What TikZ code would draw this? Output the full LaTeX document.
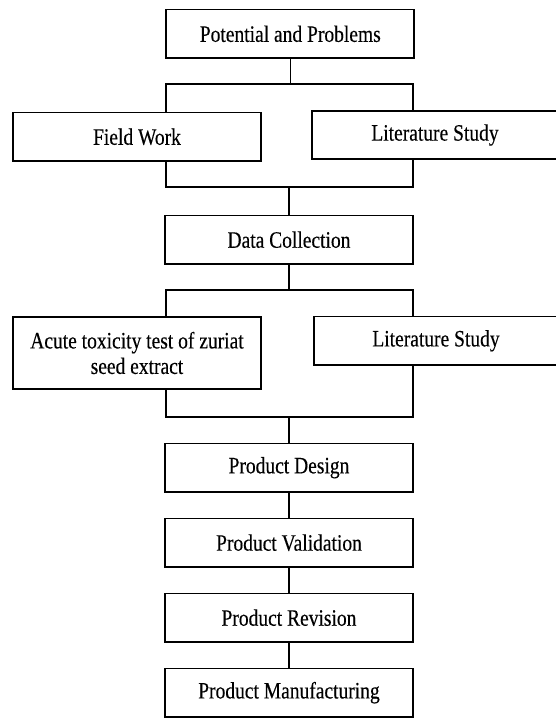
\documentclass[tikz,border=0pt]{standalone}
\usepackage{fontspec}
\setmainfont{Liberation Serif}[FakeStretch=0.83, FakeBold=0.3]
\usepackage{tikz}
\usetikzlibrary{positioning}

\begin{document}
\begin{tikzpicture}[x=1pt, y=-1pt, node distance=75pt]
	\tikzstyle{format} = [draw, line width=1.8pt, rectangle, minimum width=248pt, minimum height=48.5pt, inner sep=2pt, align=center, font=\fontsize{23.5}{25.5}\selectfont]
	\tikzstyle{link} = [line width=1.4pt]

	\useasboundingbox (0,0) rectangle (555,718);

	\begin{scope}
		\path
			node[format] (1) at (290.3,33.8) {Potential and Problems}
			node[format] (2) at (137,136.8) {Field Work}
			node[format, minimum width=246pt] (3) at (435,135) {Literature Study}
			node[format] (4) at (289,239.7) {Data Collection}
			node[format, minimum height=72.6pt] (5) at (137,353) {Acute toxicity test of zuriat\\seed extract}
			node[format, minimum width=244pt] (6) at (436,340.8) {Literature Study}
		;
	\end{scope}

	\begin{scope}
		\path
			node[format] (7) at (289,467.7) {Product Design}
			node[format, below of=7] (8) {Product Validation}
			node[format, below of=8] (9) {Product Revision}
			node[format, below of=9] (10) {Product Manufacturing}
		;
	\end{scope}

	% branch points
	\coordinate (a) at (166,84);
	\coordinate (b) at (413,84);
	\coordinate (c) at (166,187);
	\coordinate (d) at (413,187);
	\coordinate (e) at (166,290);
	\coordinate (f) at (413,290);
	\coordinate (g) at (166,417);
	\coordinate (h) at (413,417);

	\draw[link] (1) -- (1 |- a);
	\draw[link] (a |- 2.north) -- (a) -- (b) -- (b |- 3.north);
	\draw[link] (c |- 2.south) -- (c) -- (d) -- (d |- 3.south);
	\draw[link] (4) -- (4 |- c);
	\draw[link] (4) -- (4 |- e);
	\draw[link] (e |- 5.north) -- (e) -- (f) -- (f |- 6.north);
	\draw[link] (g |- 5.south) -- (g) -- (h) -- (h |- 6.south);
	\draw[link] (7) -- (7 |- g);
	\draw[link] (7) -- (8);
	\draw[link] (8) -- (9);
	\draw[link] (9) -- (10);
\end{tikzpicture}
\end{document}
